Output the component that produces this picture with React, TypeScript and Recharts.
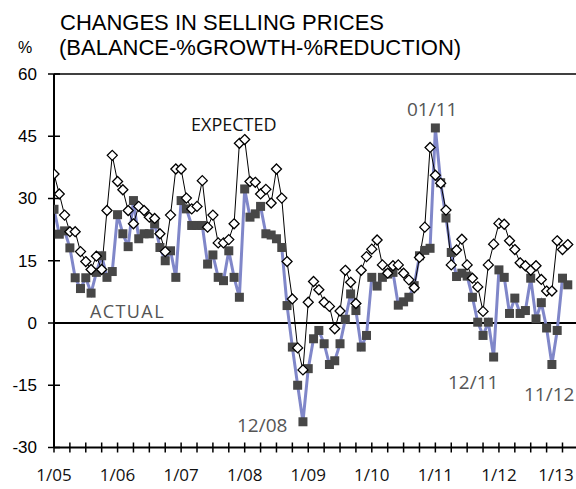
import { LineChart, Line, XAxis, YAxis, ReferenceLine } from 'recharts'

// monthly, starting 1/05
const actual = [
  27.4, 21.4, 22.2, 18.1, 10.9, 8.3, 10.9, 7.2, 12.2, 16.2, 11.0, 12.4,
  26.1, 21.5, 18.4, 29.5, 20.3, 21.5, 21.5, 23.9, 18.2, 15.0, 17.4, 11.0,
  29.5, 27.5, 23.5, 23.5, 23.5, 14.2, 16.4, 11.0, 10.2, 17.4, 11.0, 6.2,
  32.3, 25.5, 26.3, 28.1, 21.5, 21.2, 20.3, 18.2, 4.2, -5.8, -15.0, -23.8,
  -11.0, -3.8, -1.8, -5.0, -10.0, -9.1, -5.0, 0.9, 7.0, 3.0, -5.8, -3.0,
  11.0, 8.9, 11.0, 11.8, 12.2, 4.3, 5.1, 6.2, 9.0, 16.2, 17.5, 18.0,
  47.0, 33.8, 25.3, 17.0, 11.2, 12.0, 11.3, 6.2, 0.2, -3.0, 0.2, -8.2,
  12.8, 11.0, 2.3, 6.0, 2.3, 3.0, 10.8, 1.0, 4.9, -1.2, -10.0, -1.8,
  10.8, 9.2,
]

const expected = [
  35.9, 31.1, 26.0, 22.0, 22.0, 17.2, 14.8, 12.9, 16.1, 12.9, 27.1, 40.4,
  34.1, 32.1, 27.1, 23.9, 28.1, 27.1, 25.5, 25.2, 21.5, 17.2, 26.0, 37.1,
  37.1, 30.1, 27.5, 28.1, 34.3, 23.1, 26.0, 19.3, 19.3, 20.1, 23.9, 43.3,
  44.2, 34.1, 33.9, 31.1, 32.2, 28.9, 37.1, 30.1, 14.8, 5.8, -6.0, -11.3,
  5.0, 10.0, 8.0, 5.0, 4.0, -1.4, 2.9, 12.7, 9.8, 4.7, 12.7, 16.0,
  17.8, 20.0, 14.0, 12.0, 13.8, 14.0, 12.0, 10.4, 8.5, 15.8, 23.1, 42.3,
  35.6, 33.7, 27.2, 14.0, 17.6, 20.2, 14.0, 10.8, 8.7, 2.8, 14.0, 19.0,
  24.0, 23.8, 19.8, 17.7, 14.5, 13.8, 12.7, 13.8, 10.5, 7.7, 7.7, 19.8,
  17.7, 18.9,
]

const yearLabels = ['1/05', '1/06', '1/07', '1/08', '1/09', '1/10', '1/11', '1/12', '1/13']
const yTicks = [-30, -15, 0, 15, 30, 45, 60]
const quarterTicks = Array.from({ length: 33 }, (_, i) => i * 3)

const data = actual.map((a, i) => ({ m: i, actual: a, expected: expected[i] }))

const sideFont = '"Open Sans", sans-serif'
const arial = '"Liberation Sans", Arial, sans-serif'

function XTick(props: any) {
  const { x, y, payload } = props
  const v = payload.value
  // keep the last label inside the picture
  const lx = Math.min(x, 556)
  return (
    <g>
      <line x1={x} x2={x} y1={y - 5} y2={y + 5} stroke="#000" strokeWidth={1.5} />
      {v % 12 === 0 && (
        <text x={lx} y={y + 33} textAnchor="middle" fontSize={17} fontFamily={sideFont} fill="#111">
          {yearLabels[v / 12]}
        </text>
      )}
    </g>
  )
}

function YTick(props: any) {
  const { x, y, payload } = props
  return (
    <g>
      <line x1={x - 6} x2={x + 6} y1={y} y2={y} stroke="#000" strokeWidth={1.5} />
      <text x={x - 17} y={y} dy="0.35em" textAnchor="end" fontSize={17} fontFamily={arial} fill="#000">
        {payload.value}
      </text>
    </g>
  )
}

function Square(props: any) {
  const { cx, cy, index } = props
  return <rect key={`a-${index}`} x={cx - 4.5} y={cy - 4.5} width={9} height={9} fill="#474747" />
}

function Diamond(props: any) {
  const { cx, cy, index } = props
  return (
    <polygon
      key={`e-${index}`}
      points={`${cx},${cy - 5} ${cx + 5},${cy} ${cx},${cy + 5} ${cx - 5},${cy}`}
      fill="#fff"
      stroke="#000"
      strokeWidth={1.3}
    />
  )
}

export default function App() {
  return (
    <div style={{ position: 'absolute', left: 0, top: 0, width: 576, height: 489, background: '#fff' }}>
      <LineChart width={576} height={489} data={data} margin={{ top: 74, right: 0, left: 0, bottom: 0 }}>
        <XAxis
          type="number"
          dataKey="m"
          domain={[0, 98.55]}
          ticks={quarterTicks}
          interval={0}
          tick={<XTick />}
          tickLine={false}
          tickSize={0}
          tickMargin={0}
          height={41.5}
          axisLine={{ stroke: '#000', strokeWidth: 2 }}
          allowDataOverflow
        />
        <YAxis
          domain={[-30, 60]}
          ticks={yTicks}
          interval={0}
          width={54}
          tick={<YTick />}
          tickLine={false}
          tickSize={0}
          tickMargin={0}
          axisLine={{ stroke: '#000', strokeWidth: 2 }}
          allowDataOverflow
        />
        <ReferenceLine y={0} stroke="#000" strokeWidth={2} />
        <ReferenceLine y={60} stroke="#000" strokeWidth={1.5} />
        <Line
          type="linear"
          dataKey="actual"
          stroke="#8087c9"
          strokeWidth={3}
          dot={Square}
          activeDot={false}
          isAnimationActive={false}
        />
        <Line
          type="linear"
          dataKey="expected"
          stroke="#000"
          strokeWidth={1}
          dot={Diamond}
          activeDot={false}
          isAnimationActive={false}
        />
      </LineChart>
      <svg width={576} height={489} style={{ position: 'absolute', left: 0, top: 0, pointerEvents: 'none' }}>
        <text x={60} y={30} fontSize={22} fontFamily={arial} fill="#000">CHANGES IN SELLING PRICES</text>
        <text x={59} y={55} fontSize={22} fontFamily={arial} fill="#000">(BALANCE-%GROWTH-%REDUCTION)</text>
        <text x={18} y={53} fontSize={16} fontFamily={arial} fill="#000">%</text>
        <text x={191} y={131} fontSize={18} fontFamily={sideFont} fill="#111">EXPECTED</text>
        <text x={90} y={318} fontSize={18} fontFamily={sideFont} fill="#555" letterSpacing={1.4}>ACTUAL</text>
        <text x={407} y={116} fontSize={19} fontFamily={sideFont} fill="#555">01/11</text>
        <text x={237} y={432} fontSize={19} fontFamily={sideFont} fill="#555">12/08</text>
        <text x={448} y={389} fontSize={19} fontFamily={sideFont} fill="#555">12/11</text>
        <text x={524} y={401} fontSize={19} fontFamily={sideFont} fill="#555">11/12</text>
      </svg>
    </div>
  )
}
